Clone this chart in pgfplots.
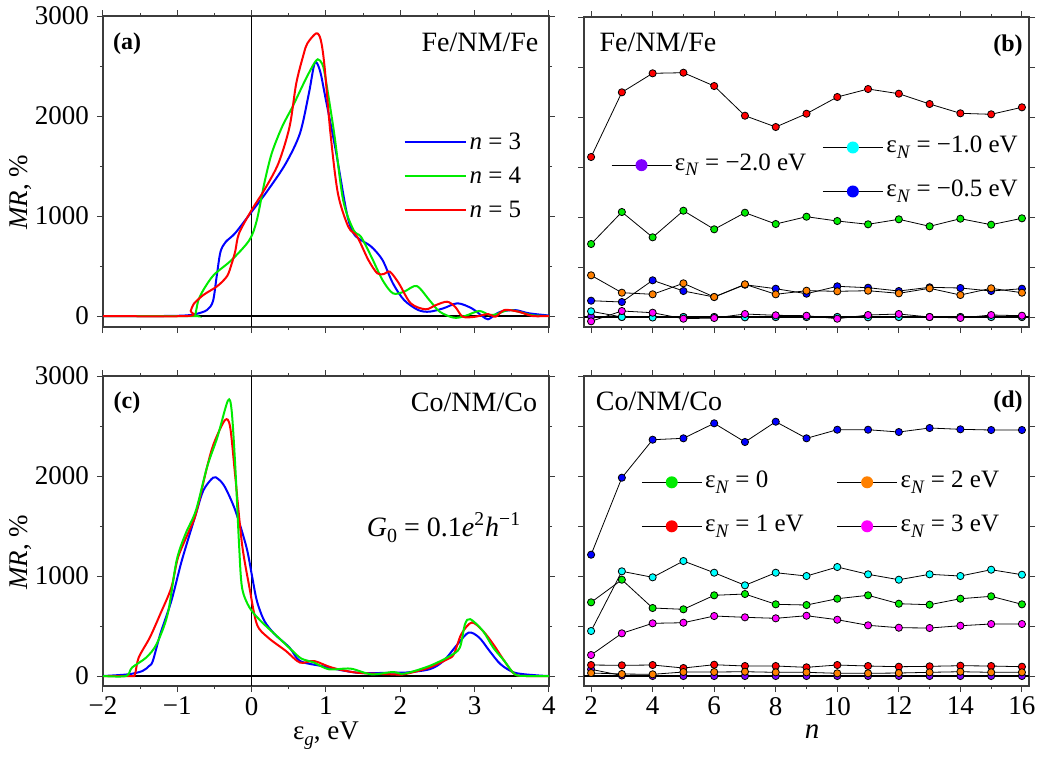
\documentclass[border=0pt]{standalone}
\usepackage{fontspec}
\setmainfont{Liberation Serif}
\usepackage{pgfplots}
\pgfplotsset{compat=1.18}

\definecolor{framegray}{RGB}{60,60,60}
\definecolor{cblue}{RGB}{0,0,255}
\definecolor{cgreen}{RGB}{0,235,0}
\definecolor{cred}{RGB}{255,0,0}
\definecolor{ccyan}{RGB}{0,255,255}
\definecolor{cmag}{RGB}{255,0,255}
\definecolor{corange}{RGB}{255,128,0}
\definecolor{cviolet}{RGB}{128,0,255}

% picture pixel -> pt: 1047 px = 523.5 pt
\newcommand\epsN{ε\raisebox{-0.5ex}{\fontsize{9.5}{10}\selectfont\textit{N}}}

\pgfplotsset{
  mrpanel/.style={
    scale only axis, anchor=south west,
    axis line style={draw=framegray, line width=0.7pt},
    tick align=outside,
    major tick length=3pt, minor tick length=1.6pt,
    tick style={framegray, line width=0.5pt},
    tick label style={font=\fontsize{13.5}{15}\selectfont},
    yticklabel style={xshift=-0.5pt},
    xticklabel style={yshift=1pt},
  },
  npanel/.style={
    mrpanel, width=222.5pt, height=155pt,
    xmin=1.77, xmax=16.23, ymin=-100, ymax=3000,
    xtick={2,4,...,16}, minor xtick={3,5,...,15},
    ytick={0,500,...,3000}, yticklabels={},
    legend style={draw=none, fill=none, inner sep=0pt,
      font=\fontsize{12.5}{14}\selectfont,
      nodes={inner sep=1.5pt, text height=9pt, text depth=4pt}},
    legend cell align=left,
    legend image code/.code={
      \draw[black, line width=0.4pt] (0pt,0pt) -- (30pt,0pt);
      \fill[#1, draw=none] (15pt,0pt) circle (3pt);},
  },
  dots/.style={black, line width=0.4pt, mark=*, mark size=1.8pt,
    mark options={draw=none, fill=#1}, forget plot},
}

\begin{document}
\begin{tikzpicture}
\useasboundingbox (0,0) rectangle (523.5pt,-378pt);

%% (a)
\begin{axis}[mrpanel, at={(51.5pt,-163.5pt)}, width=223pt, height=155.5pt,
  xmin=-2, xmax=4, ymin=-110, ymax=3000,
  xtick={-2,...,4}, minor xtick={-1.5,-0.5,...,3.5}, xticklabels={},
  ytick={0,1000,2000,3000}, minor ytick={500,1500,2500},
  yticklabels={\textrm{0},\textrm{1000},\textrm{2000},\textrm{3000}},
  legend style={at={(axis description cs:0.673,0.64)}, anchor=north west,
    draw=none, fill=none, inner sep=0pt, row sep=3pt,
    font=\fontsize{12.5}{14}\selectfont,
    nodes={inner sep=1.5pt, text height=9pt, text depth=2pt}},
  legend cell align=left,
  legend image code/.code={\draw[#1] (0pt,0pt) -- (30.5pt,0pt);},
]
\addplot[black, line width=0.5pt, forget plot] coordinates {(0,-110) (0,3000)};
\addplot[black, line width=0.6pt, forget plot] coordinates {(-2,0) (4,0)};
\addplot[cblue, line width=1pt, smooth, tension=0.5] coordinates {
  (-2,0) (-1.2,0) (-0.9,5) (-0.75,20) (-0.6,60) (-0.52,150) (-0.47,400)
  (-0.42,640) (-0.35,740) (-0.22,830) (0,1043) (0.22,1260) (0.46,1527)
  (0.65,1827) (0.77,2227) (0.85,2533) (0.92,2450) (0.99,2193) (1.13,1660)
  (1.28,1027) (1.37,827) (1.47,760) (1.61,693) (1.76,560) (1.9,327)
  (2.05,160) (2.24,60) (2.39,43) (2.58,77) (2.77,127) (2.96,77) (3.1,0)
  (3.18,-33) (3.27,10) (3.35,43) (3.54,60) (3.73,27) (4,5)};
\addlegendentry{\textit{n} = 3}
\addplot[cgreen, line width=1pt, smooth, tension=0.5] coordinates {
  (-2,0) (-0.8,0) (-0.76,10) (-0.72,150) (-0.65,260) (-0.51,410)
  (-0.27,560) (-0.03,760) (0.07,960) (0.17,1327) (0.27,1627) (0.41,1893)
  (0.55,2093) (0.7,2327) (0.82,2500) (0.89,2567) (0.95,2520) (0.99,2393)
  (1.11,1827) (1.23,1160) (1.37,860) (1.47,793) (1.61,593) (1.76,360)
  (1.9,227) (2.05,243) (2.22,300) (2.39,160) (2.53,43) (2.72,-17)
  (2.87,0) (3.06,50) (3.2,10) (3.3,20) (3.45,60) (3.59,43) (3.78,7) (4,0)};
\addlegendentry{\textit{n} = 4}
\addplot[cred, line width=1pt, smooth, tension=0.5] coordinates {
  (-2,0) (-0.86,0) (-0.82,50) (-0.78,120) (-0.65,210) (-0.46,300)
  (-0.33,400) (-0.27,520) (-0.22,650) (-0.17,827) (0,1060) (0.17,1260)
  (0.36,1527) (0.51,1893) (0.6,2327) (0.7,2620) (0.75,2727) (0.87,2827)
  (0.93,2760) (0.98,2500) (1.06,1827) (1.16,1227) (1.3,893) (1.42,793)
  (1.57,560) (1.69,427) (1.78,420) (1.86,443) (1.98,327) (2.14,127)
  (2.34,67) (2.48,110) (2.63,143) (2.74,90) (2.84,-7) (3.01,-7) (3.18,20)
  (3.28,-7) (3.4,60) (3.59,43) (3.78,0) (4,0)};
\addlegendentry{\textit{n} = 5}
\end{axis}

%% (b)
\begin{axis}[npanel, at={(292pt,-163.5pt)}, xticklabels={},
  legend style={at={(axis description cs:0.535,0.632)}, anchor=north west,
    row sep=6pt}]
\addplot[black, line width=0.9pt, forget plot] coordinates {(1.77,0) (16.23,0)};
\addplot[dots=cviolet] coordinates {(2,5) (3,0) (4,0) (5,0) (6,0) (7,0) (8,0)
  (9,0) (10,0) (11,0) (12,0) (13,0) (14,0) (15,0) (16,0)};
\addplot[dots=ccyan] coordinates {(2,57) (3,0) (4,-5) (5,0) (6,0) (7,-3) (8,0)
  (9,0) (10,0) (11,-3) (12,0) (13,0) (14,0) (15,0) (16,0)};
\addplot[dots=cblue] coordinates {(2,163) (3,150) (4,367) (5,260) (6,200)
  (7,323) (8,283) (9,233) (10,307) (11,293) (12,260) (13,297) (14,290)
  (15,260) (16,283)};
\addplot[dots=cgreen] coordinates {(2,730) (3,1050) (4,797) (5,1063) (6,877)
  (7,1043) (8,930) (9,1003) (10,960) (11,927) (12,977) (13,907) (14,983)
  (15,923) (16,987)};
\addplot[dots=cred] coordinates {(2,1600) (3,2247) (4,2437) (5,2443) (6,2310)
  (7,2013) (8,1900) (9,2033) (10,2200) (11,2280) (12,2233) (13,2130)
  (14,2037) (15,2027) (16,2097)};
\addplot[dots=corange] coordinates {(2,417) (3,243) (4,227) (5,337) (6,200)
  (7,327) (8,227) (9,263) (10,257) (11,263) (12,237) (13,287) (14,220)
  (15,287) (16,243)};
\addplot[dots=cmag] coordinates {(2,-43) (3,60) (4,43) (5,-17) (6,-10) (7,30)
  (8,17) (9,13) (10,-17) (11,20) (12,30) (13,0) (14,-10) (15,20) (16,13)};
\addlegendimage{color=ccyan}
\addlegendentry{\epsN{} = −1.0 eV}
\addlegendimage{color=cblue}
\addlegendentry{\epsN{} = −0.5 eV}
\end{axis}
% second legend of (b)
\begin{axis}[npanel, at={(292pt,-163.5pt)}, hide axis, xticklabels={},
  legend style={at={(axis description cs:0.06,0.575)}, anchor=north west}]
\addlegendimage{color=cviolet}
\addlegendentry{\epsN{} = −2.0 eV}
\end{axis}

%% (c)
\begin{axis}[mrpanel, at={(51.5pt,-343pt)}, width=223pt, height=155pt,
  xmin=-2, xmax=4, ymin=-100, ymax=3000,
  xtick={-2,...,4}, minor xtick={-1.5,-0.5,...,3.5},
  xticklabels={\textrm{−2},\textrm{−1},\textrm{0},\textrm{1},\textrm{2},\textrm{3},\textrm{4}},
  ytick={0,1000,2000,3000}, minor ytick={500,1500,2500},
  yticklabels={\textrm{0},\textrm{1000},\textrm{2000},\textrm{3000}},
]
\addplot[black, line width=0.5pt] coordinates {(0,-100) (0,3000)};
\addplot[black, line width=0.6pt] coordinates {(-2,0) (4,0)};
\addplot[cblue, line width=1pt, smooth, tension=0.5] coordinates {
  (-2,0) (-1.66,17) (-1.47,50) (-1.38,100) (-1.33,150) (-1.23,418)
  (-1.08,752) (-0.94,1154) (-0.75,1622) (-0.65,1856) (-0.52,1983)
  (-0.45,1970) (-0.36,1890) (-0.22,1656) (-0.07,1288) (0,1020) (0.07,752)
  (0.17,552) (0.31,418) (0.51,284) (0.65,150) (0.94,100) (1.42,33)
  (1.9,33) (2.05,33) (2.39,67) (2.58,150) (2.77,318) (2.92,435) (3.06,385)
  (3.2,251) (3.35,117) (3.54,33) (3.83,7) (4,0)};
\addplot[cred, line width=1pt, smooth, tension=0.5] coordinates {
  (-2,0) (-1.62,0) (-1.57,17) (-1.52,184) (-1.37,385) (-1.23,619)
  (-1.08,886) (-0.99,1187) (-0.84,1455) (-0.75,1622) (-0.6,2090)
  (-0.51,2324) (-0.36,2558) (-0.29,2492) (-0.22,1990) (-0.13,1321)
  (-0.03,886) (0.07,518) (0.22,385) (0.46,251) (0.65,134) (0.84,150)
  (1.08,84) (1.42,33) (1.9,17) (2.05,17) (2.39,84) (2.63,167) (2.72,217)
  (2.82,418) (2.96,535) (3.11,452) (3.25,318) (3.4,150) (3.54,17) (3.7,0)
  (4,0)};
\addplot[cgreen, line width=1pt, smooth, tension=0.5] coordinates {
  (-2,0) (-1.69,0) (-1.61,84) (-1.42,184) (-1.28,318) (-1.13,619)
  (-1.01,1154) (-0.89,1421) (-0.75,1656) (-0.6,2090) (-0.46,2391)
  (-0.32,2753) (-0.27,2659) (-0.22,2090) (-0.17,1321) (-0.13,886)
  (-0.03,686) (0.12,552) (0.36,385) (0.55,251) (0.67,174) (0.84,134)
  (1.04,67) (1.33,74) (1.61,17) (1.9,40) (2.05,23) (2.39,100) (2.67,201)
  (2.8,284) (2.87,518) (2.94,569) (3.11,452) (3.25,284) (3.4,150)
  (3.54,17) (3.7,0) (4,0)};
\end{axis}

%% (d)
\begin{axis}[npanel, at={(292pt,-343pt)},
  xticklabels={\textrm{2},\textrm{4},\textrm{6},\textrm{8},\textrm{10},\textrm{12},\textrm{14},\textrm{16}},
  legend columns=2,
  legend style={at={(axis description cs:0.128,0.71)}, anchor=north west,
    row sep=6pt, /tikz/every even column/.append style={column sep=15pt}}]
\addplot[black, line width=0.9pt, forget plot] coordinates {(1.77,0) (16.23,0)};
\addplot[dots=cviolet] coordinates {(2,67) (3,5) (4,0) (5,0) (6,0) (7,0) (8,0)
  (9,0) (10,0) (11,0) (12,0) (13,0) (14,0) (15,0) (16,0)};
\addplot[dots=ccyan] coordinates {(2,450) (3,1047) (4,987) (5,1150) (6,1033)
  (7,907) (8,1033) (9,1000) (10,1090) (11,1017) (12,963) (13,1017)
  (14,1000) (15,1063) (16,1013)};
\addplot[dots=cblue] coordinates {(2,1213) (3,1983) (4,2363) (5,2377)
  (6,2527) (7,2340) (8,2543) (9,2377) (10,2463) (11,2463) (12,2440)
  (13,2480) (14,2467) (15,2460) (16,2460)};
\addplot[dots=cgreen] coordinates {(2,737) (3,963) (4,680) (5,667) (6,807)
  (7,820) (8,717) (9,710) (10,773) (11,807) (12,723) (13,713) (14,773)
  (15,797) (16,717)};
\addplot[dots=cred] coordinates {(2,110) (3,107) (4,110) (5,80) (6,113)
  (7,100) (8,100) (9,87) (10,110) (11,100) (12,93) (13,97) (14,103)
  (15,100) (16,93)};
\addplot[dots=corange] coordinates {(2,30) (3,20) (4,17) (5,40) (6,40) (7,43)
  (8,37) (9,37) (10,27) (11,27) (12,30) (13,37) (14,43) (15,37) (16,37)};
\addplot[dots=cmag] coordinates {(2,210) (3,427) (4,527) (5,533) (6,600)
  (7,587) (8,577) (9,603) (10,563) (11,507) (12,483) (13,480) (14,503)
  (15,520) (16,520)};
\addlegendimage{color=cgreen}
\addlegendentry{\epsN{} = 0}
\addlegendimage{color=corange}
\addlegendentry{\epsN{} = 2 eV}
\addlegendimage{color=cred}
\addlegendentry{\epsN{} = 1 eV}
\addlegendimage{color=cmag}
\addlegendentry{\epsN{} = 3 eV}
\end{axis}

%% texts
\node[font=\fontsize{12}{14}\selectfont\bfseries] at (63.5pt,-22pt) {(a)};
\node[font=\fontsize{14}{16}\selectfont] at (240pt,-21pt) {Fe/NM/Fe};
\node[font=\fontsize{14}{16}\selectfont] at (329pt,-21pt) {Fe/NM/Fe};
\node[font=\fontsize{12}{14}\selectfont\bfseries] at (504pt,-23pt) {(b)};
\node[font=\fontsize{12}{14}\selectfont\bfseries] at (63.5pt,-201.5pt) {(c)};
\node[font=\fontsize{14}{16}\selectfont] at (237pt,-201pt) {Co/NM/Co};
\node[font=\fontsize{14}{16}\selectfont] at (329.5pt,-200.5pt) {Co/NM/Co};
\node[font=\fontsize{12}{14}\selectfont\bfseries] at (504pt,-201pt) {(d)};
\node[font=\fontsize{14}{16}\selectfont] at (222pt,-264pt)
  {\textit{G}\raisebox{-0.5ex}{\fontsize{10}{10}\selectfont 0} = 0.1\textit{e}\textsuperscript{2}\textit{h}\textsuperscript{−1}};
\node[font=\fontsize{13.5}{15}\selectfont, rotate=90] at (10.5pt,-96pt) {\textit{MR}, \%};
\node[font=\fontsize{13.5}{15}\selectfont, rotate=90] at (10.5pt,-276pt) {\textit{MR}, \%};
\node[font=\fontsize{13.5}{15}\selectfont, inner sep=0pt] at (163pt,-368pt)
  {ε\raisebox{-0.5ex}{\fontsize{9.5}{10}\selectfont\textit{g}}, eV};
\node[font=\fontsize{14.5}{16}\selectfont, inner sep=0pt] at (406pt,-366pt) {\textit{n}};
\end{tikzpicture}
\end{document}
